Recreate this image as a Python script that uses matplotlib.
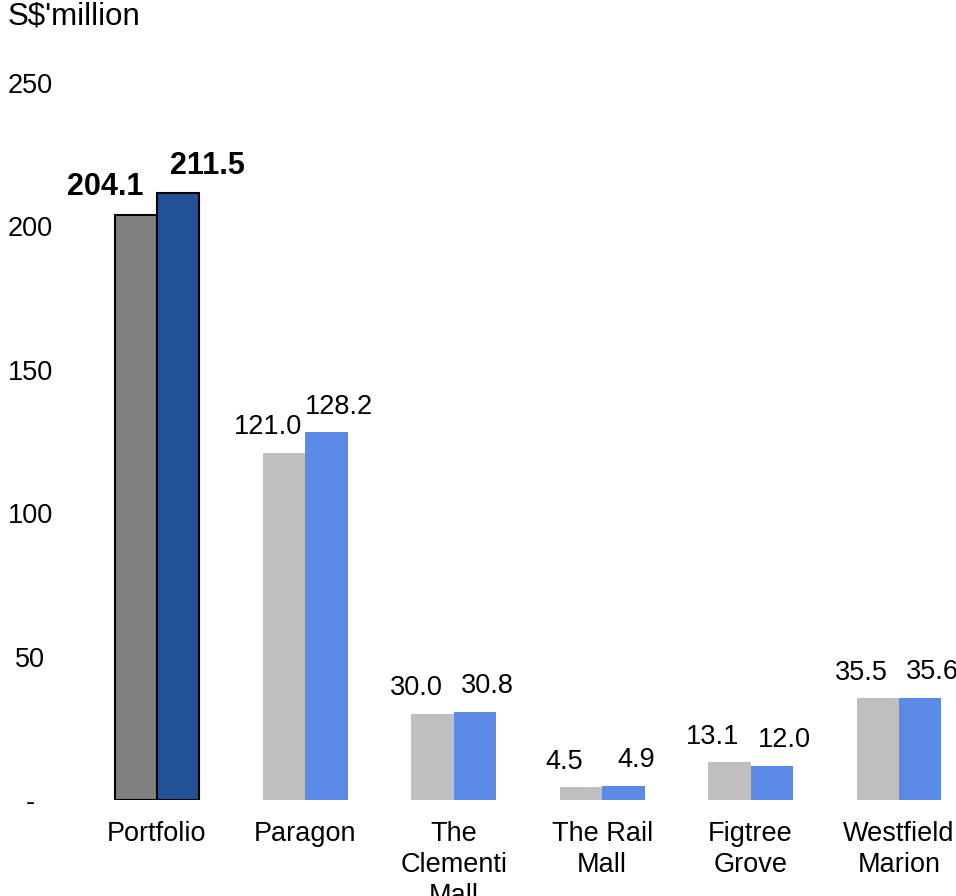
import numpy as np
import matplotlib
matplotlib.use("Agg")
import matplotlib.pyplot as plt


# ---------- DATA ---------- #

categories = ["Portfolio", "Paragon", "The\nClementi\nMall", "The Rail\nMall",
              "Figtree\nGrove", "Westfield\nMarion"]
prev_values = [204.1, 121.0, 30.0, 4.5, 13.1, 35.5]
curr_values = [211.5, 128.2, 30.8, 4.9, 12.0, 35.6]
y_ticks = [0, 50, 100, 150, 200, 250]
y_tick_labels = ["-", "50", "100", "150", "200", "250"]


# ---------- STYLE ---------- #

plt.rcParams["font.family"] = ["Liberation Sans", "DejaVu Sans"]

prev_colors = ["#808080"] + ["#BFBFBF"] * 5
curr_colors = ["#235198"] + ["#5B8AE6"] * 5
edge_colors = ["black"] + ["none"] * 5
bar_w = 0.286


# ---------- FIGURE ---------- #

fig = plt.figure(figsize=(9.56, 8.96), dpi=100)
ax = fig.add_axes([0.0866, 0.1071, 0.9314, 0.8003])

x = np.arange(len(categories))

ax.bar(x - bar_w / 2, prev_values, width=bar_w, color=prev_colors,
       edgecolor=edge_colors, linewidth=1.5)
ax.bar(x + bar_w / 2, curr_values, width=bar_w, color=curr_colors,
       edgecolor=edge_colors, linewidth=1.5)

# value labels (slightly pushed apart, like the original)
for i in range(len(categories)):
    if i == 0:
        kw = dict(fontsize=22, fontweight="bold")
        dx_prev, dx_curr = -22, 21
    else:
        kw = dict(fontsize=19.5)
        dx_prev, dx_curr = -12, 9
    ax.annotate("%.1f" % prev_values[i], (x[i] - bar_w / 2, prev_values[i]),
                xytext=(dx_prev, 9), textcoords="offset points",
                ha="center", va="bottom", **kw)
    ax.annotate("%.1f" % curr_values[i], (x[i] + bar_w / 2, curr_values[i]),
                xytext=(dx_curr, 9), textcoords="offset points",
                ha="center", va="bottom", **kw)

ax.set_xlim(-0.5, len(categories) - 0.5)
ax.set_ylim(0, 250)

ax.set_xticks(x)
ax.set_xticklabels(categories, fontsize=19.5, linespacing=1.25)
ax.set_yticks(y_ticks)
ax.set_yticklabels(y_tick_labels, fontsize=19.5, ha="center")

ax.tick_params(axis="x", length=0, pad=15)
ax.tick_params(axis="y", length=0, pad=38)

for side in ["top", "right", "left", "bottom"]:
    ax.spines[side].set_visible(False)

fig.text(0.008, 0.998, "S$'million", fontsize=22.5, ha="left", va="top")

plt.savefig("out.png", dpi=100)
